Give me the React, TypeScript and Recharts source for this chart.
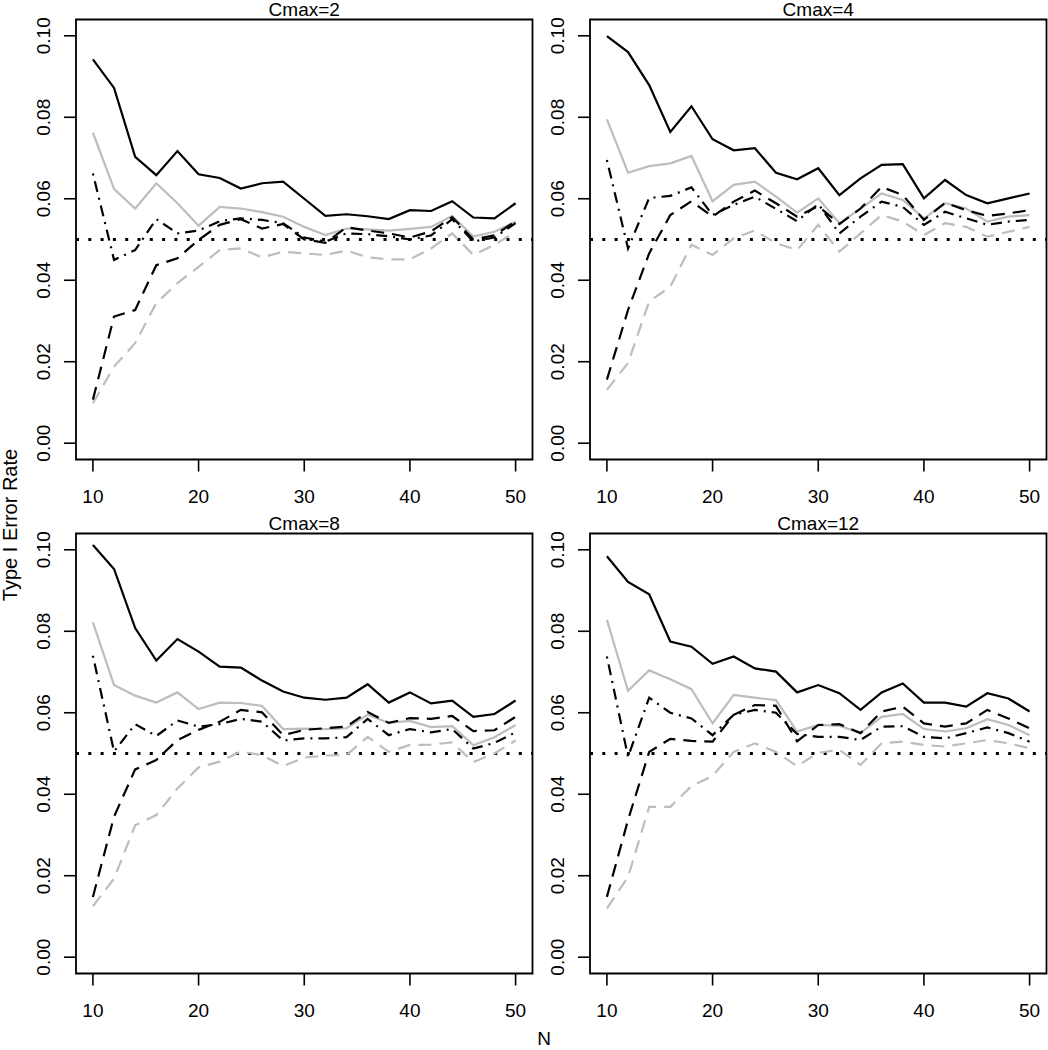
import { LineChart, Line, XAxis, YAxis, ReferenceLine, ReferenceArea } from "recharts";

// sample sizes on the x axis
const nValues = [10, 12, 14, 16, 18, 20, 22, 24, 26, 28, 30, 32, 34, 36, 38, 40, 42, 44, 46, 48, 50];
const xTicks = [10, 20, 30, 40, 50];
const yTicks = [0, 0.02, 0.04, 0.06, 0.08, 0.1];
const nominal = 0.05;

// Cmax=2
const c2Solid = [0.0942, 0.0872, 0.0703, 0.0658, 0.0717, 0.066, 0.0651, 0.0625, 0.0638, 0.0642, 0.06, 0.0558, 0.0562, 0.0557, 0.055, 0.0572, 0.057, 0.0594, 0.0554, 0.0552, 0.0589];
const c2Gray = [0.0762, 0.0624, 0.0576, 0.0638, 0.0589, 0.0534, 0.058, 0.0576, 0.0567, 0.0556, 0.0531, 0.0511, 0.0527, 0.0525, 0.0522, 0.0526, 0.0531, 0.0558, 0.0507, 0.0519, 0.0544];
const c2DotDash = [0.0662, 0.045, 0.0474, 0.055, 0.0515, 0.0522, 0.0545, 0.0552, 0.0548, 0.054, 0.0505, 0.0495, 0.0515, 0.0513, 0.0508, 0.05, 0.051, 0.055, 0.0495, 0.0505, 0.054];
const c2Dash = [0.0107, 0.0311, 0.0327, 0.0437, 0.0454, 0.0499, 0.0536, 0.055, 0.0527, 0.0538, 0.05, 0.0492, 0.053, 0.0522, 0.0515, 0.0505, 0.052, 0.0555, 0.05, 0.051, 0.0545];
const c2GrayDash = [0.0098, 0.0188, 0.0246, 0.0344, 0.0393, 0.0433, 0.0474, 0.0478, 0.0456, 0.047, 0.0466, 0.0462, 0.0473, 0.0456, 0.0451, 0.0451, 0.0478, 0.0515, 0.0462, 0.0487, 0.0519];

// Cmax=4
const c4Solid = [0.0999, 0.096, 0.0879, 0.0764, 0.0827, 0.0746, 0.0719, 0.0724, 0.0664, 0.0648, 0.0675, 0.0609, 0.065, 0.0683, 0.0685, 0.0601, 0.0646, 0.0609, 0.0589, 0.0601, 0.0613];
const c4Gray = [0.0795, 0.0664, 0.068, 0.0687, 0.0705, 0.0594, 0.0634, 0.0642, 0.0605, 0.0566, 0.0601, 0.054, 0.0576, 0.0613, 0.0597, 0.0552, 0.0589, 0.0576, 0.0544, 0.0556, 0.056];
const c4DotDash = [0.0695, 0.0478, 0.0602, 0.0607, 0.0628, 0.056, 0.0585, 0.0605, 0.0575, 0.0545, 0.0587, 0.0515, 0.0556, 0.0593, 0.058, 0.0536, 0.0568, 0.0552, 0.0536, 0.0544, 0.0548];
const c4Dash = [0.0156, 0.0327, 0.0466, 0.056, 0.0594, 0.0556, 0.0593, 0.062, 0.0589, 0.0556, 0.0582, 0.0538, 0.0576, 0.0629, 0.0609, 0.0548, 0.059, 0.0572, 0.0558, 0.0564, 0.0572];
const c4GrayDash = [0.0131, 0.0197, 0.0348, 0.0384, 0.0487, 0.0462, 0.0503, 0.0522, 0.0491, 0.0474, 0.0536, 0.047, 0.0515, 0.056, 0.0544, 0.0511, 0.054, 0.0531, 0.0507, 0.0519, 0.0531];

// Cmax=8
const c8Solid = [0.1012, 0.0953, 0.0808, 0.0728, 0.0781, 0.075, 0.0713, 0.0711, 0.0679, 0.0652, 0.0637, 0.0632, 0.0637, 0.067, 0.0625, 0.065, 0.0623, 0.063, 0.059, 0.0597, 0.063];
const c8Gray = [0.0822, 0.0668, 0.0642, 0.0625, 0.065, 0.0609, 0.0625, 0.0624, 0.0617, 0.056, 0.0561, 0.056, 0.0562, 0.0595, 0.0575, 0.058, 0.0565, 0.0567, 0.052, 0.054, 0.057];
const c8DotDash = [0.074, 0.0505, 0.0572, 0.0543, 0.0581, 0.0566, 0.0572, 0.0585, 0.0578, 0.0532, 0.0537, 0.0537, 0.054, 0.0585, 0.0545, 0.056, 0.0552, 0.056, 0.0512, 0.0526, 0.0552];
const c8Dash = [0.0148, 0.0345, 0.0461, 0.0484, 0.0533, 0.0558, 0.0578, 0.0607, 0.0601, 0.0545, 0.0558, 0.0562, 0.0566, 0.0602, 0.0575, 0.0587, 0.0585, 0.0592, 0.0555, 0.0557, 0.059];
const c8GrayDash = [0.0125, 0.0193, 0.0324, 0.0349, 0.0414, 0.0466, 0.048, 0.0505, 0.0496, 0.0469, 0.049, 0.0495, 0.0496, 0.0541, 0.0504, 0.0521, 0.0522, 0.0527, 0.0479, 0.05, 0.0532];

// Cmax=12
const c12Solid = [0.0984, 0.0921, 0.0891, 0.0775, 0.0762, 0.072, 0.0738, 0.0709, 0.0701, 0.065, 0.0668, 0.0648, 0.0607, 0.065, 0.0672, 0.0625, 0.0625, 0.0615, 0.0648, 0.0635, 0.0603];
const c12Gray = [0.0828, 0.0654, 0.0704, 0.0682, 0.0658, 0.0574, 0.0644, 0.0637, 0.0631, 0.0554, 0.057, 0.0568, 0.055, 0.059, 0.0597, 0.056, 0.0554, 0.0562, 0.0584, 0.057, 0.0545];
const c12DotDash = [0.0738, 0.0492, 0.0637, 0.06, 0.0586, 0.0545, 0.0595, 0.0607, 0.06, 0.0548, 0.0541, 0.0541, 0.0533, 0.0566, 0.0567, 0.0541, 0.0537, 0.055, 0.0564, 0.055, 0.0529];
const c12Dash = [0.0148, 0.0337, 0.0504, 0.0536, 0.0531, 0.0529, 0.0595, 0.0619, 0.0617, 0.053, 0.057, 0.0572, 0.055, 0.0603, 0.0615, 0.0574, 0.0566, 0.0574, 0.0607, 0.0586, 0.0562];
const c12GrayDash = [0.012, 0.0197, 0.0369, 0.0369, 0.042, 0.0445, 0.0504, 0.0525, 0.0504, 0.0469, 0.0502, 0.0509, 0.0472, 0.0525, 0.0529, 0.0521, 0.0517, 0.0525, 0.0533, 0.0525, 0.0513];

const FONT = '"Liberation Sans", Arial, Helvetica, sans-serif';
const FS = 19;
const GRAY = "#bdbdbd";
const X_DOMAIN = [8.4, 51.6];
const Y_DOMAIN = [-0.004, 0.104];

const panels = [
  { title: "Cmax=2", left: 0, top: 0, s: [c2Solid, c2Gray, c2DotDash, c2Dash, c2GrayDash] },
  { title: "Cmax=4", left: 514, top: 0, s: [c4Solid, c4Gray, c4DotDash, c4Dash, c4GrayDash] },
  { title: "Cmax=8", left: 0, top: 514, s: [c8Solid, c8Gray, c8DotDash, c8Dash, c8GrayDash] },
  { title: "Cmax=12", left: 514, top: 514, s: [c12Solid, c12Gray, c12DotDash, c12Dash, c12GrayDash] },
];

const XTick = (props: any) => {
  const { x, y, payload } = props;
  return (
    <text x={x} y={y + 31} textAnchor="middle" fontFamily={FONT} fontSize={FS} fill="#000">
      {payload.value}
    </text>
  );
};

const YTick = (props: any) => {
  const { x, y, payload } = props;
  return (
    <text
      transform={`translate(${x - 14},${y}) rotate(-90)`}
      textAnchor="middle"
      fontFamily={FONT}
      fontSize={FS}
      fill="#000"
    >
      {Number(payload.value).toFixed(2)}
    </text>
  );
};

function Panel({ title, left, top, s }: any) {
  const data = nValues.map((n, i) => ({
    n,
    solid: s[0][i],
    gray: s[1][i],
    dotdash: s[2][i],
    dash: s[3][i],
    grayDash: s[4][i],
  }));
  return (
    <div style={{ position: "absolute", left, top }}>
      <LineChart width={534} height={509.5} data={data} margin={{ top: 19.5, right: 1.5, bottom: 0, left: 0 }}>
        <XAxis
          type="number"
          dataKey="n"
          domain={X_DOMAIN}
          ticks={xTicks}
          allowDataOverflow
          axisLine={false}
          tickSize={12}
          tickMargin={0}
          height={50}
          tickLine={{ stroke: "#000", strokeWidth: 1.6 }}
          tick={XTick}
        />
        <YAxis
          type="number"
          domain={Y_DOMAIN}
          ticks={yTicks}
          allowDataOverflow
          axisLine={false}
          tickSize={12}
          tickMargin={0}
          width={76}
          tickLine={{ stroke: "#000", strokeWidth: 1.6 }}
          tick={YTick}
        />
        <ReferenceLine y={nominal} stroke="#000" strokeWidth={3} strokeDasharray="3 9.3" />
        <Line dataKey="grayDash" stroke={GRAY} strokeWidth={2.2} strokeDasharray="13 8" dot={false} activeDot={false} isAnimationActive={false} />
        <Line dataKey="gray" stroke={GRAY} strokeWidth={2.2} dot={false} activeDot={false} isAnimationActive={false} />
        <Line dataKey="dash" stroke="#000" strokeWidth={2.2} strokeDasharray="13 8" dot={false} activeDot={false} isAnimationActive={false} />
        <Line dataKey="dotdash" stroke="#000" strokeWidth={2.2} strokeDasharray="2 6 11 6" dot={false} activeDot={false} isAnimationActive={false} />
        <Line dataKey="solid" stroke="#000" strokeWidth={2.2} dot={false} activeDot={false} isAnimationActive={false} />
        <ReferenceArea x1={X_DOMAIN[0]} x2={X_DOMAIN[1]} y1={Y_DOMAIN[0]} y2={Y_DOMAIN[1]} fill="none" fillOpacity={0} stroke="#000" strokeWidth={1.8} />
      </LineChart>
      <svg width={534} height={30} style={{ position: "absolute", left: 0, top: 0, overflow: "visible" }}>
        <text x={76 + 456.5 / 2} y={16} textAnchor="middle" fontFamily={FONT} fontSize={FS} fill="#000">
          {title}
        </text>
      </svg>
    </div>
  );
}

export default function App() {
  return (
    <div style={{ position: "absolute", left: 0, top: 0, width: 1048, height: 1050, background: "#fff", overflow: "hidden" }}>
      {panels.map((p) => (
        <Panel key={p.title} {...p} />
      ))}
      <svg width={1048} height={1050} style={{ position: "absolute", left: 0, top: 0, pointerEvents: "none" }}>
        <text x={544} y={1045} textAnchor="middle" fontFamily={FONT} fontSize={FS} fill="#000">
          N
        </text>
        <text transform="translate(17,525) rotate(-90)" textAnchor="middle" fontFamily={FONT} fontSize={20} fill="#000">
          Type I Error Rate
        </text>
      </svg>
    </div>
  );
}
